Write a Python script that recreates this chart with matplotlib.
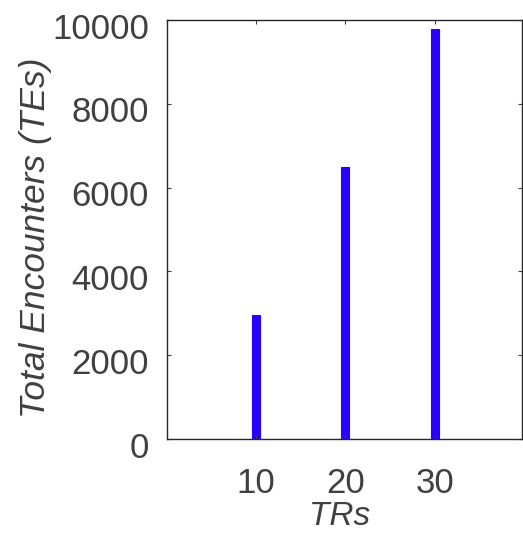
import matplotlib
matplotlib.use("Agg")
import matplotlib.pyplot as plt
import matplotlib.transforms as mtransforms

trs = [10, 20, 30]
encounters = [2965, 6495, 9780]
xticks = [10, 20, 30]
yticks = [0, 2000, 4000, 6000, 8000, 10000]

plt.rcParams['font.family'] = ['Liberation Sans', 'DejaVu Sans']
fig = plt.figure(figsize=(5.23, 5.34), dpi=100)
ax = fig.add_axes([167/523, 1 - 439/534, (522 - 167)/523, (439 - 20)/534])
ax.bar(trs, encounters, width=0.9, color='#2a00ff', edgecolor='#2a00ff', linewidth=0.8)
ax.set_xlim(0, 39.8)
ax.set_ylim(0, 10000)
ax.set_xticks(xticks)
ax.set_yticks(yticks)
ax.tick_params(direction='in', length=3, width=0.8, top=True, right=True,
               labelsize=25, labelcolor='#404040', color='#404040')
ax.tick_params(axis='x', pad=20)
ax.tick_params(axis='y', pad=13)
for s in ax.spines.values():
    s.set_linewidth(1.0)
    s.set_color('#262626')
off = mtransforms.ScaledTranslation(0, -4/72, fig.dpi_scale_trans)
for lab in ax.get_yticklabels():
    lab.set_transform(lab.get_transform() + off)
ax.set_xlabel('TRs', fontsize=24, style='italic', color='#404040')
ax.set_ylabel('Total Encounters (TEs)', fontsize=25.5, style='italic', color='#404040')
ax.xaxis.set_label_coords(0.487, -0.147)
ax.yaxis.set_label_coords(-0.324, 0.481)
fig.savefig('out.png', dpi=100)
